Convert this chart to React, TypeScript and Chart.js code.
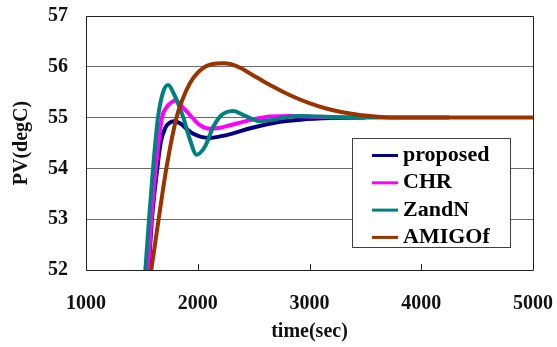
import { useEffect, useRef } from 'react';
import { Chart, registerables } from 'chart.js';

Chart.register(...registerables);

// Series names and colours
const seriesNames = ['proposed', 'CHR', 'ZandN', 'AMIGOf'];
const seriesColors = ['#000080', '#FF00FF', '#008080', '#993300'];

// proposed
const tProposed = [1530, 1561, 1590, 1638, 1668, 1710, 1750, 1785, 1841, 1900, 1960, 2030, 2110, 2200, 2300, 2470, 2600, 2740, 2920, 3200, 3500];
const vProposed = [51.0, 52.0, 53.0, 54.0, 54.5, 54.8, 54.9, 54.93, 54.89, 54.78, 54.68, 54.62, 54.6, 54.63, 54.68, 54.79, 54.86, 54.92, 54.96, 54.99, 55.0];

// CHR
const tCHR = [1525, 1555, 1585, 1624, 1680, 1720, 1765, 1805, 1845, 1931, 2020, 2110, 2200, 2290, 2470, 2650, 2830, 3100, 3500];
const vCHR = [51.0, 52.0, 53.0, 54.0, 55.0, 55.2, 55.3, 55.34, 55.25, 55.05, 54.85, 54.78, 54.8, 54.85, 54.95, 55.02, 55.03, 55.01, 55.0];

// ZandN
const tZandN = [1500, 1531, 1564, 1600, 1644, 1690, 1735, 1790, 1841, 1871, 1931, 1990, 2065, 2139, 2199, 2250, 2318, 2400, 2470, 2557, 2650, 2740, 2900, 3100, 3400, 4250];
const vZandN = [51.1, 52.0, 53.0, 54.0, 55.0, 55.5, 55.64, 55.45, 55.18, 55.0, 54.56, 54.27, 54.43, 54.82, 55.02, 55.1, 55.13, 55.06, 54.99, 54.93, 54.95, 54.99, 55.03, 55.02, 55.0, 55.0];

// AMIGOf
const tAMIGOf = [1550, 1584, 1650, 1719, 1810, 1868, 1931, 1990, 2050, 2110, 2170, 2230, 2300, 2380, 2468, 2647, 2826, 3004, 3183, 3362, 3541, 3780, 4200, 5000];
const vAMIGOf = [51.5, 52.0, 53.0, 54.0, 55.0, 55.38, 55.68, 55.86, 55.98, 56.04, 56.065, 56.07, 56.05, 55.98, 55.87, 55.64, 55.44, 55.28, 55.16, 55.08, 55.03, 55.0, 55.0, 55.0];

const seriesTimes = [tProposed, tCHR, tZandN, tAMIGOf];
const seriesValues = [vProposed, vCHR, vZandN, vAMIGOf];

// Axis ranges and tick values
const xTicks = [1000, 2000, 3000, 4000, 5000];
const yTicks = [52, 53, 54, 55, 56, 57];

const FONT_FAMILY = "'Liberation Serif', 'Times New Roman', serif";

// Frame around the plot plus short inward tick marks on the time axis
const framePlugin = {
  id: 'frame',
  afterDatasetsDraw(chart: any) {
    const { ctx, chartArea, scales } = chart;
    const { left, right, top, bottom } = chartArea;
    ctx.save();
    ctx.strokeStyle = '#222';
    ctx.lineWidth = 1;
    ctx.beginPath();
    ctx.rect(Math.round(left) + 0.5, Math.round(top) + 0.5, Math.round(right - left), Math.round(bottom - top));
    ctx.stroke();
    ctx.beginPath();
    for (const v of xTicks) {
      const px = Math.round(scales.x.getPixelForValue(v)) + 0.5;
      ctx.moveTo(px, bottom);
      ctx.lineTo(px, bottom - 6);
    }
    ctx.stroke();
    ctx.restore();
  },
};

// Boxed legend drawn inside the plot area
const legendBoxPlugin = {
  id: 'legendBox',
  afterDraw(chart: any) {
    const { ctx } = chart;
    const bx = 352.5;
    const by = 138.5;
    const bw = 158;
    const bh = 109;
    ctx.save();
    ctx.fillStyle = '#fff';
    ctx.fillRect(bx, by, bw, bh);
    ctx.strokeStyle = '#404040';
    ctx.lineWidth = 1;
    ctx.strokeRect(bx, by, bw, bh);
    ctx.font = `bold 22px ${FONT_FAMILY}`;
    ctx.textBaseline = 'middle';
    ctx.textAlign = 'left';
    chart.data.datasets.forEach((ds: any, i: number) => {
      const cy = 155.5 + i * 27.3;
      ctx.strokeStyle = ds.borderColor;
      ctx.lineWidth = 3;
      ctx.beginPath();
      ctx.moveTo(372, cy);
      ctx.lineTo(398, cy);
      ctx.stroke();
      ctx.fillStyle = '#000';
      ctx.fillText(ds.label, 403, cy);
    });
    ctx.restore();
  },
};

// Drop the label-overhang padding so layout.padding alone places the plot area
const clearScalePadding = (scale: any) => {
  scale.paddingTop = 0;
  scale.paddingBottom = 0;
  scale.paddingLeft = 0;
  scale.paddingRight = 0;
};

export default function App() {
  const canvasRef = useRef<HTMLCanvasElement | null>(null);

  useEffect(() => {
    const canvas = canvasRef.current;
    if (!canvas) return;
    const datasets = seriesNames.map((name, i) => ({
      label: name,
      data: seriesTimes[i].map((t, j) => ({ x: t, y: seriesValues[i][j] })),
      borderColor: seriesColors[i],
      backgroundColor: seriesColors[i],
      borderWidth: 4,
      pointRadius: 0,
      fill: false,
      cubicInterpolationMode: 'monotone' as const,
      clip: 0,
      order: seriesNames.length - i,
    }));

    const chart = new Chart(canvas, {
      type: 'line',
      data: { datasets },
      options: {
        animation: false,
        responsive: false,
        maintainAspectRatio: false,
        layout: { padding: { top: 16, right: 24, left: 0, bottom: 0 } },
        plugins: {
          legend: { display: false },
          tooltip: { enabled: false },
        },
        scales: {
          x: {
            type: 'linear',
            min: xTicks[0],
            max: xTicks[xTicks.length - 1],
            afterBuildTicks: (scale: any) => {
              scale.ticks = xTicks.map((v) => ({ value: v }));
            },
            afterFit: (scale: any) => {
              scale.height = 77;
              clearScalePadding(scale);
            },
            grid: { display: false, drawTicks: false },
            border: { display: false },
            ticks: {
              padding: 22,
              color: '#111',
              font: { family: FONT_FAMILY, size: 20, weight: 'bold' },
              maxRotation: 0,
              autoSkip: false,
              callback: (v: any) => String(v),
            },
            title: {
              display: true,
              text: 'time(sec)',
              color: '#111',
              font: { family: FONT_FAMILY, size: 20, weight: 'bold' },
              padding: { top: 0, bottom: 3 },
            },
          },
          y: {
            type: 'linear',
            min: yTicks[0],
            max: yTicks[yTicks.length - 1],
            afterBuildTicks: (scale: any) => {
              scale.ticks = yTicks.map((v) => ({ value: v }));
            },
            afterFit: (scale: any) => {
              scale.width = 86;
              clearScalePadding(scale);
            },
            grid: { color: '#6a6a6a', lineWidth: 1, drawTicks: false },
            border: { display: false },
            ticks: {
              padding: 18,
              color: '#111',
              font: { family: FONT_FAMILY, size: 20, weight: 'bold' },
              callback: (v: any) => String(v),
            },
            title: {
              display: true,
              text: 'PV(degC)',
              color: '#111',
              font: { family: FONT_FAMILY, size: 20, weight: 'bold' },
              padding: { top: 10, bottom: 0 },
            },
          },
        },
      },
      plugins: [framePlugin, legendBoxPlugin],
    } as any);

    return () => {
      chart.destroy();
    };
  }, []);

  return (
    <div style={{ position: 'absolute', left: 0, top: 0, width: 557, height: 347, background: '#fff' }}>
      <canvas ref={canvasRef} width={557} height={347} style={{ display: 'block', width: 557, height: 347 }} />
    </div>
  );
}
